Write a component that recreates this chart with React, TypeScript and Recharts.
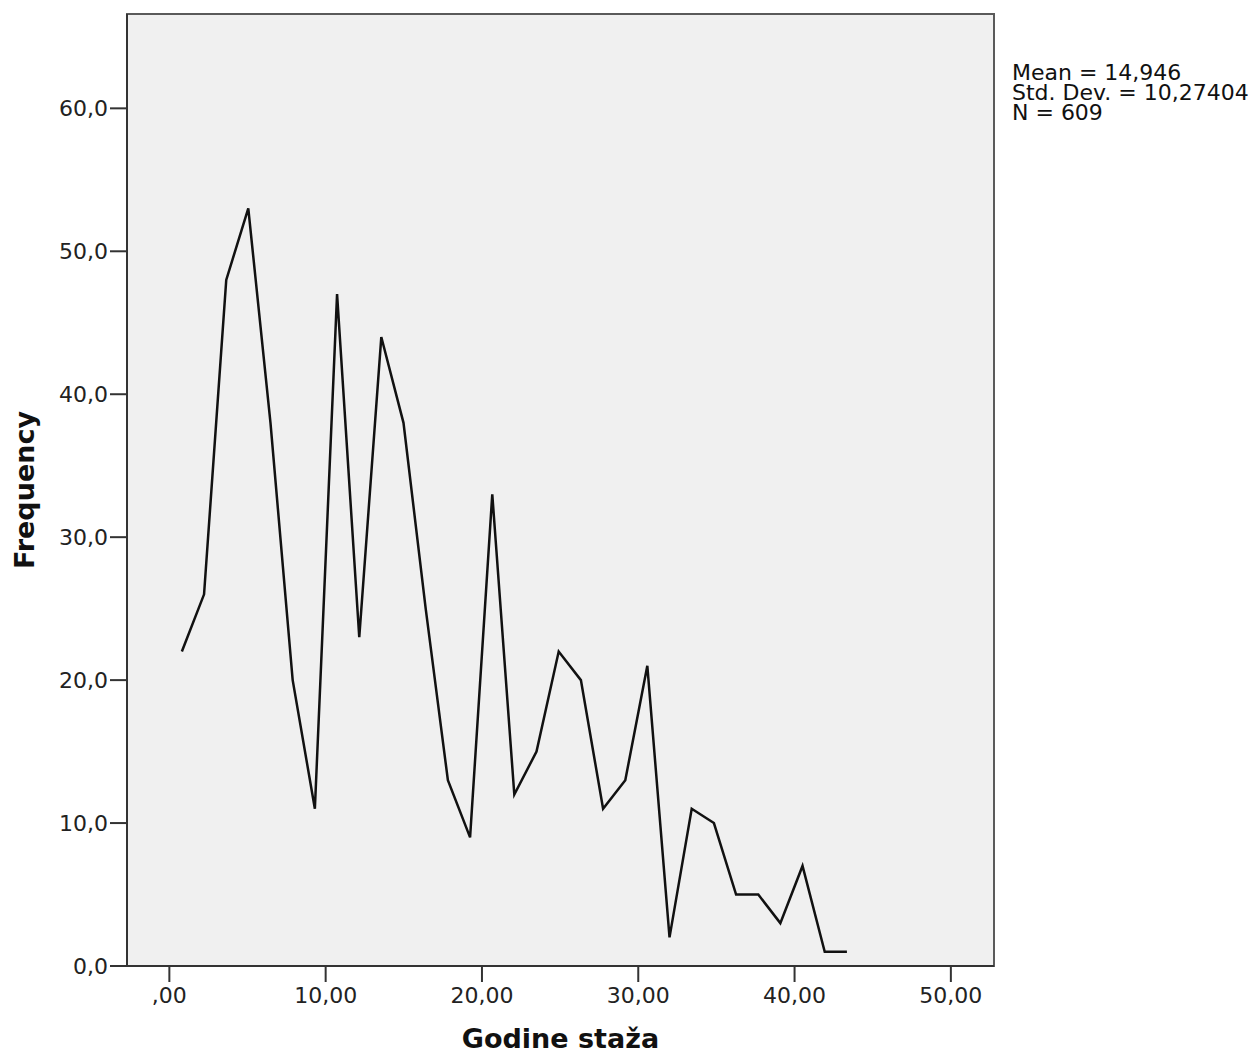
import React from 'react';
import { LineChart, Line, XAxis, YAxis, ReferenceArea, Label } from 'recharts';

// bin midpoints (Godine staža) and their frequencies
const binMids = [
  0.8, 2.22, 3.64, 5.05, 6.47, 7.89, 9.31, 10.73, 12.15, 13.56, 14.98,
  16.4, 17.82, 19.24, 20.66, 22.07, 23.49, 24.91, 26.33, 27.75, 29.17,
  30.58, 32.0, 33.42, 34.84, 36.26, 37.68, 39.09, 40.51, 41.93, 43.35
];
const frequencies = [
  22, 26, 48, 53, 38, 20, 11, 47, 23, 44, 38,
  25, 13, 9, 33, 12, 15, 22, 20, 11, 13,
  21, 2, 11, 10, 5, 5, 3, 7, 1, 1
];
const xTicks = [0, 10, 20, 30, 40, 50];
const yTicks = [0, 10, 20, 30, 40, 50, 60];
const statsLines = ['Mean = 14,946', 'Std. Dev. = 10,27404', 'N = 609'];

const xDomain: [number, number] = [-2.71, 52.76];
const yDomain: [number, number] = [0, 66.6];

const data = binMids.map((x, i) => ({ x, freq: frequencies[i] }));

const font = 'DejaVu Sans, sans-serif';
const tickStyle = { fontSize: 22, fill: '#222', fontFamily: font };

const fmtX = (v: number) => (v === 0 ? ',00' : v.toFixed(2).replace('.', ','));
const fmtY = (v: number) => v.toFixed(1).replace('.', ',');

export default function App() {
  return (
    // negative bottom margin cancels the body margin so the page does not scroll
    <div style={{ position: 'relative', width: 1242, height: 1051, marginBottom: -8 }}>
      <LineChart
        width={1242}
        height={1051}
        data={data}
        margin={{ top: 6, right: 256, left: 0, bottom: 0 }}
      >
        <ReferenceArea
          x1={xDomain[0]}
          x2={xDomain[1]}
          y1={yDomain[0]}
          y2={yDomain[1]}
          fill="#f0f0f0"
          fillOpacity={1}
          stroke="#5a5a5a"
          strokeWidth={2}
          ifOverflow="extendDomain"
        />
        <XAxis
          dataKey="x"
          type="number"
          domain={xDomain}
          allowDataOverflow
          ticks={xTicks}
          tickFormatter={fmtX}
          height={93}
          tickSize={16}
          tickMargin={5}
          tick={tickStyle}
          stroke="#333"
          strokeWidth={2}
        >
          <Label
            value="Godine staža"
            position="insideBottom"
            offset={11}
            style={{ fontSize: 27, fontWeight: 'bold', fill: '#111', fontFamily: font }}
          />
        </XAxis>
        <YAxis
          type="number"
          domain={yDomain}
          allowDataOverflow
          ticks={yTicks}
          tickFormatter={fmtY}
          width={119}
          tickSize={17}
          tickMargin={2}
          tick={tickStyle}
          stroke="#333"
          strokeWidth={2}
        >
          <Label
            value="Frequency"
            angle={-90}
            position="insideLeft"
            offset={16}
            style={{ fontSize: 27, fontWeight: 'bold', fill: '#111', fontFamily: font, textAnchor: 'middle' }}
          />
        </YAxis>
        <Line
          type="linear"
          dataKey="freq"
          stroke="#111"
          strokeWidth={2.5}
          dot={false}
          isAnimationActive={false}
        />
      </LineChart>
      <div
        style={{
          position: 'absolute',
          left: 1004,
          top: 55,
          fontFamily: font,
          fontSize: 22,
          lineHeight: '20px',
          color: '#111',
          whiteSpace: 'nowrap'
        }}
      >
        {statsLines.map((s) => (
          <div key={s}>{s}</div>
        ))}
      </div>
    </div>
  );
}
